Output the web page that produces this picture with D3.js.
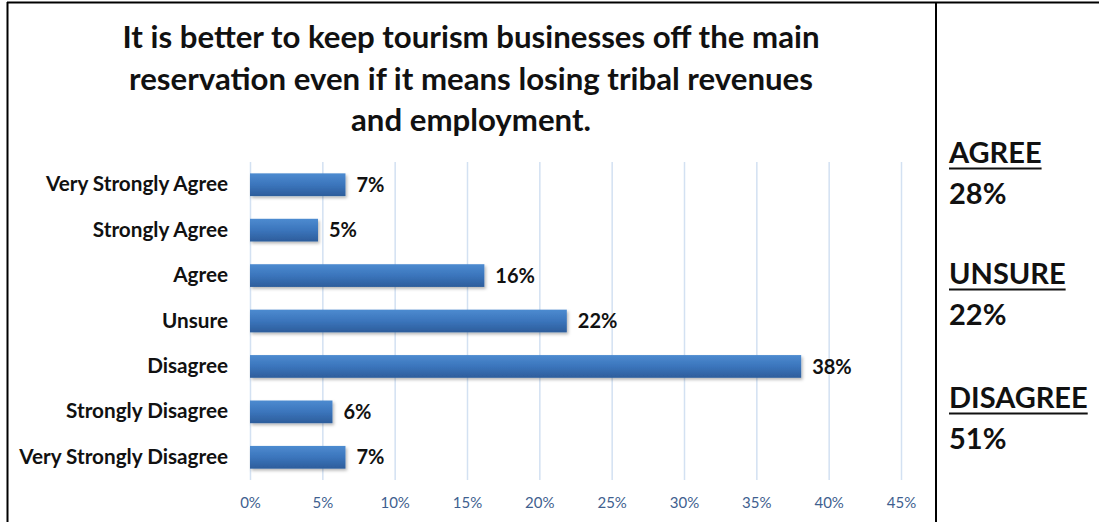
<!DOCTYPE html>
<html>
<head>
<meta charset="utf-8">
<script src="https://cdn.jsdelivr.net/npm/d3@7"></script>
<style>
  html, body { margin: 0; padding: 0; background: #fff; }
  svg { display: block; font-family: Lato, "Open Sans", sans-serif; }
</style>
</head>
<body>
<svg id="chart" width="1099" height="522"></svg>
<script>
// Survey statement and responses
const titleLines = [
  "It is better to keep tourism businesses off the main",
  "reservation even if it means losing tribal revenues",
  "and employment."
];
const categories = [
  "Very Strongly Agree",
  "Strongly Agree",
  "Agree",
  "Unsure",
  "Disagree",
  "Strongly Disagree",
  "Very Strongly Disagree"
];
const values = [6.6, 4.7, 16.2, 21.9, 38.1, 5.7, 6.6];
const xTicks = [0, 5, 10, 15, 20, 25, 30, 35, 40, 45];

// Grouped totals shown in the side panel
const summaryLabels = ["AGREE", "UNSURE", "DISAGREE"];
const summaryValues = [28, 22, 51];

const svg = d3.select("#chart");
const W = 1099, H = 522;
const plot = { left: 250, right: 901, top: 162, bottom: 480 };

// Gradient and shadow for the bars
const defs = svg.append("defs");
const grad = defs.append("linearGradient")
  .attr("id", "barFill").attr("x1", 0).attr("y1", 0).attr("x2", 0).attr("y2", 1);
grad.append("stop").attr("offset", "0%").attr("stop-color", "#4d8bd0");
grad.append("stop").attr("offset", "50%").attr("stop-color", "#3b75bc");
grad.append("stop").attr("offset", "100%").attr("stop-color", "#2d5d9b");
const shadow = defs.append("filter").attr("id", "barShadow")
  .attr("x", "-10%").attr("y", "-20%").attr("width", "130%").attr("height", "160%");
shadow.append("feDropShadow")
  .attr("dx", 1.5).attr("dy", 2).attr("stdDeviation", 1.5)
  .attr("flood-color", "#000").attr("flood-opacity", 0.28);

// Frame lines
svg.append("line").attr("x1", 7).attr("x2", W).attr("y1", 2.5).attr("y2", 2.5)
  .attr("stroke", "#000").attr("stroke-width", 2);
svg.append("line").attr("x1", 7.5).attr("x2", 7.5).attr("y1", 2).attr("y2", H)
  .attr("stroke", "#000").attr("stroke-width", 2);
svg.append("line").attr("x1", 936).attr("x2", 936).attr("y1", 2).attr("y2", H)
  .attr("stroke", "#000").attr("stroke-width", 2);

// Title
svg.append("text")
  .attr("x", 471).attr("y", 48)
  .attr("text-anchor", "middle")
  .attr("font-size", 31.2).attr("font-weight", 700).attr("fill", "#111")
  .selectAll("tspan").data(titleLines).join("tspan")
  .attr("x", 471).attr("dy", (d, i) => i === 0 ? 0 : 41.5)
  .text(d => d);

// Scales
const x = d3.scaleLinear().domain([0, 45]).range([plot.left, plot.right]);
const y = d3.scaleBand().domain(categories).range([plot.top, plot.bottom])
  .paddingInner(0.5).paddingOuter(0.25);

// Vertical gridlines
svg.append("g")
  .attr("transform", `translate(0,${plot.bottom})`)
  .call(d3.axisBottom(x).tickValues(xTicks).tickSize(-(plot.bottom - plot.top)).tickFormat(""))
  .call(g => g.select(".domain").remove())
  .call(g => g.selectAll(".tick line").attr("stroke", "#d3e1f2").attr("stroke-width", 1.5));

// Tick labels
svg.append("g")
  .attr("transform", `translate(0,${plot.bottom})`)
  .call(d3.axisBottom(x).tickValues(xTicks).tickSize(0).tickPadding(17).tickFormat(d => d + "%"))
  .call(g => g.select(".domain").remove())
  .call(g => g.selectAll(".tick text")
    .attr("font-family", "Lato, sans-serif").attr("font-size", 15).attr("fill", "#3f5f8f"));

// Category labels
svg.append("g")
  .attr("transform", `translate(${plot.left},0)`)
  .call(d3.axisLeft(y).tickSize(0).tickPadding(22))
  .call(g => g.select(".domain").remove())
  .call(g => g.selectAll(".tick text")
    .attr("font-family", "Lato, sans-serif").attr("font-size", 20.7)
    .attr("font-weight", 700).attr("fill", "#111"));

// Bars
svg.append("g").selectAll("rect").data(values).join("rect")
  .attr("x", x(0))
  .attr("y", (d, i) => y(categories[i]))
  .attr("width", d => x(d) - x(0))
  .attr("height", y.bandwidth())
  .attr("fill", "url(#barFill)")
  .attr("filter", "url(#barShadow)");

// Value labels
svg.append("g").selectAll("text").data(values).join("text")
  .attr("x", d => x(d) + 11)
  .attr("y", (d, i) => y(categories[i]) + y.bandwidth() / 2)
  .attr("dy", "0.36em")
  .attr("font-size", 20).attr("font-weight", 700).attr("fill", "#111")
  .text(d => Math.round(d) + "%");

// Side panel totals
const side = svg.append("g").attr("transform", "translate(949,0)");
const rowY = [163, 284, 408];
summaryLabels.forEach((lab, i) => {
  const t = side.append("text")
    .attr("x", 0).attr("y", rowY[i])
    .attr("font-size", 29).attr("font-weight", 700).attr("fill", "#111")
    .text(lab);
  const w = t.node().getComputedTextLength();
  side.append("line")
    .attr("x1", 0).attr("x2", w)
    .attr("y1", rowY[i] + 5.5).attr("y2", rowY[i] + 5.5)
    .attr("stroke", "#111").attr("stroke-width", 2.2);
  side.append("text")
    .attr("x", 0).attr("y", rowY[i] + 41)
    .attr("font-size", 29).attr("font-weight", 700).attr("fill", "#111")
    .text(summaryValues[i] + "%");
});
</script>
</body>
</html>
